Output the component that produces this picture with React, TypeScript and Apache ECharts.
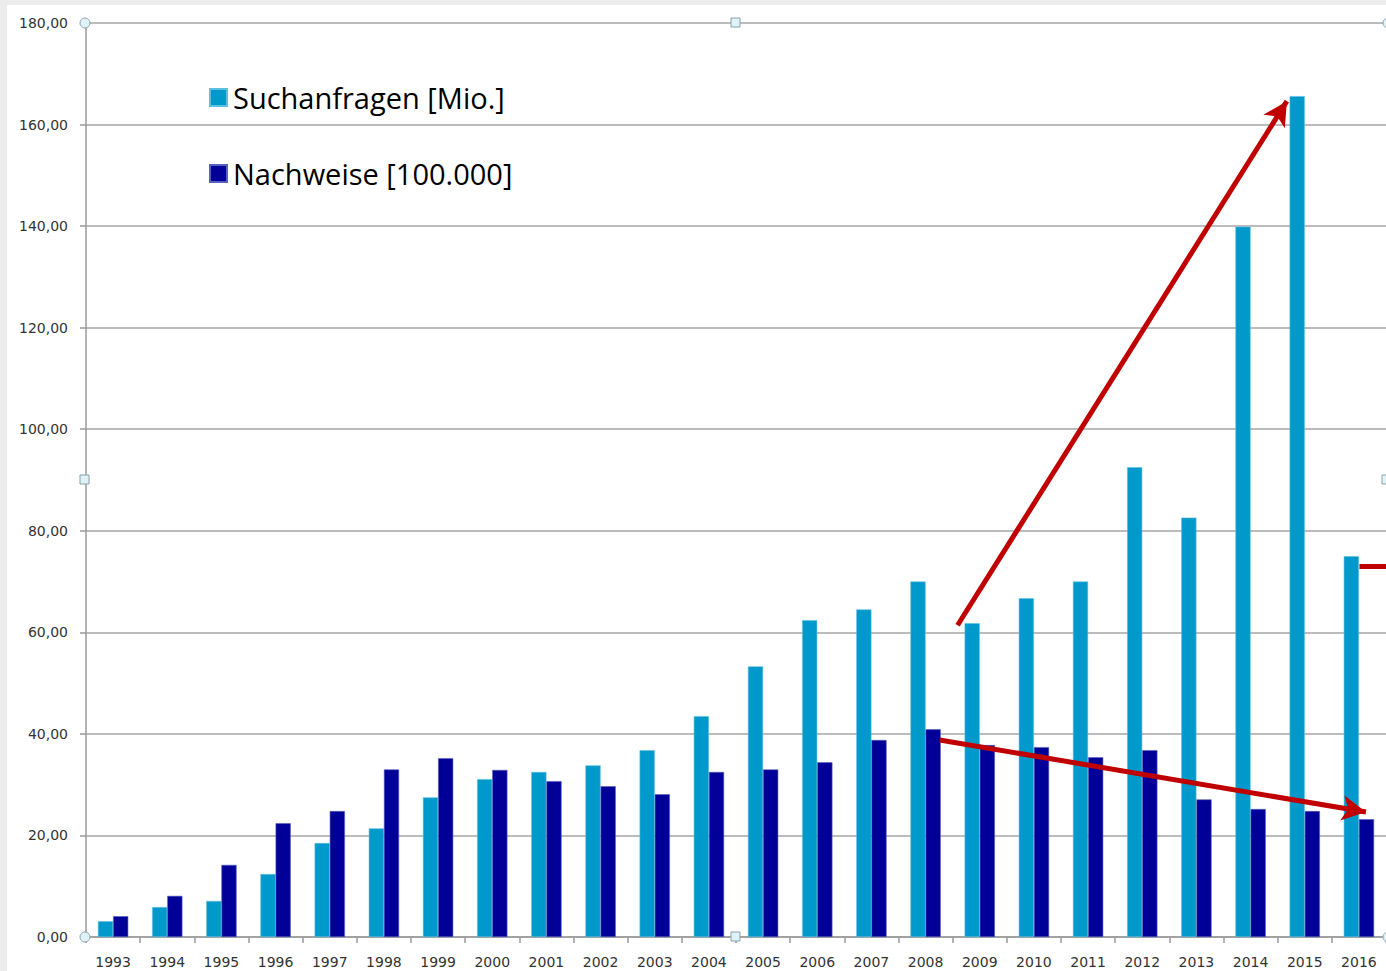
import React, { useEffect, useRef } from "react";
import * as echarts from "echarts";

const years = ["1993","1994","1995","1996","1997","1998","1999","2000","2001","2002","2003","2004","2005","2006","2007","2008","2009","2010","2011","2012","2013","2014","2015","2016"];
const suchanfragen = [3.1,5.9,7.1,12.4,18.5,21.4,27.5,31.1,32.5,33.8,36.8,43.5,53.3,62.4,64.5,70.0,61.8,66.7,70.0,92.5,82.6,139.9,165.6,75.0];
const nachweise = [4.1,8.1,14.2,22.4,24.8,33.0,35.2,32.9,30.7,29.7,28.1,32.5,33.0,34.4,38.8,40.9,37.8,37.4,35.4,36.8,27.1,25.2,24.8,23.2];
const yTicks = { min: 0, max: 180, interval: 20 };
// annotation arrows in data space: [category position (0..24), value]
const arrowUp = [[16.09, 61.4], [22.17, 164.6]];
const arrowDown = [[15.76, 38.8], [23.63, 24.6]];
const redStub = [[23.51, 73.0], [24.0, 73.0]];

const COLOR_LIGHT = "#0099CC";
const COLOR_DARK = "#000099";
const RED = "#C00000";

export default function App() {
  const ref = useRef<HTMLDivElement>(null);
  useEffect(() => {
    if (!ref.current) return;
    const chart = echarts.init(ref.current, null, { renderer: "svg" });
    const handleStyle = { fill: "#dff2f7", stroke: "#8aa0aa", lineWidth: 1 };
    chart.setOption({
      animation: false,
      backgroundColor: "#ffffff",
      textStyle: { fontFamily: "DejaVu Sans" },
      grid: { left: 86, right: -1, top: 23, bottom: 34, containLabel: false },
      legend: {
        orient: "vertical",
        left: 209,
        top: 83,
        padding: 0,
        itemWidth: 17,
        itemHeight: 17,
        itemGap: 47,
        icon: "rect",
        textStyle: { fontFamily: "Open Sans", fontSize: 29, color: "#000", padding: [0, 0, 0, 1] },
        data: ["Suchanfragen [Mio.]", "Nachweise [100.000]"],
      },
      xAxis: [
        {
          type: "category",
          data: years,
          axisLine: { lineStyle: { color: "#9a9a9a", width: 1.5 } },
          axisTick: { show: true, length: 6, lineStyle: { color: "#9a9a9a", width: 1.5 } },
          axisLabel: { color: "#333", fontSize: 14, margin: 18, fontFamily: "DejaVu Sans" },
        },
        { type: "value", min: 0, max: 24, show: false },
      ],
      yAxis: {
        type: "value",
        min: yTicks.min,
        max: yTicks.max,
        interval: yTicks.interval,
        axisLine: { show: true, lineStyle: { color: "#9a9a9a", width: 1.5 } },
        axisTick: { show: true, length: 6, lineStyle: { color: "#9a9a9a", width: 1.5 } },
        splitLine: { lineStyle: { color: "#a6a6a6", width: 1.5 } },
        axisLabel: {
          color: "#333",
          fontSize: 14,
          margin: 18,
          fontFamily: "DejaVu Sans",
          formatter: (v: number) => v.toFixed(2).replace(".", ","),
        },
      },
      series: [
        {
          name: "Suchanfragen [Mio.]",
          type: "bar",
          data: suchanfragen,
          barGap: "0%",
          barCategoryGap: "44%",
          itemStyle: { color: COLOR_LIGHT, borderColor: "#5ec0e0", borderWidth: 0.6 },
        },
        {
          name: "Nachweise [100.000]",
          type: "bar",
          data: nachweise,
          barGap: "0%",
          barCategoryGap: "44%",
          itemStyle: { color: COLOR_DARK, borderColor: "#5560c0", borderWidth: 0.6 },
        },
        {
          name: "arrows",
          type: "line",
          xAxisIndex: 1,
          data: [],
          silent: true,
          markLine: {
            silent: true,
            animation: false,
            label: { show: false },
            symbol: ["none", "arrow"],
            symbolSize: [19, 24],
            lineStyle: { color: RED, width: 5, type: "solid", opacity: 1 },
            emphasis: { disabled: true },
            data: [
              [{ coord: arrowUp[0] }, { coord: arrowUp[1] }],
              [{ coord: arrowDown[0] }, { coord: arrowDown[1] }],
              [{ coord: redStub[0], symbol: "none" }, { coord: redStub[1], symbol: "none" }],
            ],
          },
        },
      ],
      graphic: [
        { type: "rect", left: 0, top: 0, shape: { width: 1386, height: 5 }, style: { fill: "#ececec" }, z: 100 },
        { type: "rect", left: 0, top: 0, shape: { width: 7, height: 971 }, style: { fill: "#ececec" }, z: 100 },
        { type: "circle", x: 85, y: 23, shape: { r: 5 }, style: handleStyle, z: 100 },
        { type: "circle", x: 85, y: 937, shape: { r: 5 }, style: handleStyle, z: 100 },
        { type: "circle", x: 1388, y: 23, shape: { r: 5 }, style: handleStyle, z: 100 },
        { type: "circle", x: 1388, y: 937, shape: { r: 5 }, style: handleStyle, z: 100 },
        { type: "rect", x: 731, y: 18, shape: { width: 9, height: 9 }, style: handleStyle, z: 100 },
        { type: "rect", x: 731, y: 932, shape: { width: 9, height: 9 }, style: handleStyle, z: 100 },
        { type: "rect", x: 80, y: 475, shape: { width: 9, height: 9 }, style: handleStyle, z: 100 },
        { type: "rect", x: 1382, y: 475, shape: { width: 9, height: 9 }, style: handleStyle, z: 100 },
      ],
    });
    return () => chart.dispose();
  }, []);
  return <div ref={ref} style={{ position: "absolute", left: 0, top: 0, width: 1386, height: 971 }} />;
}
